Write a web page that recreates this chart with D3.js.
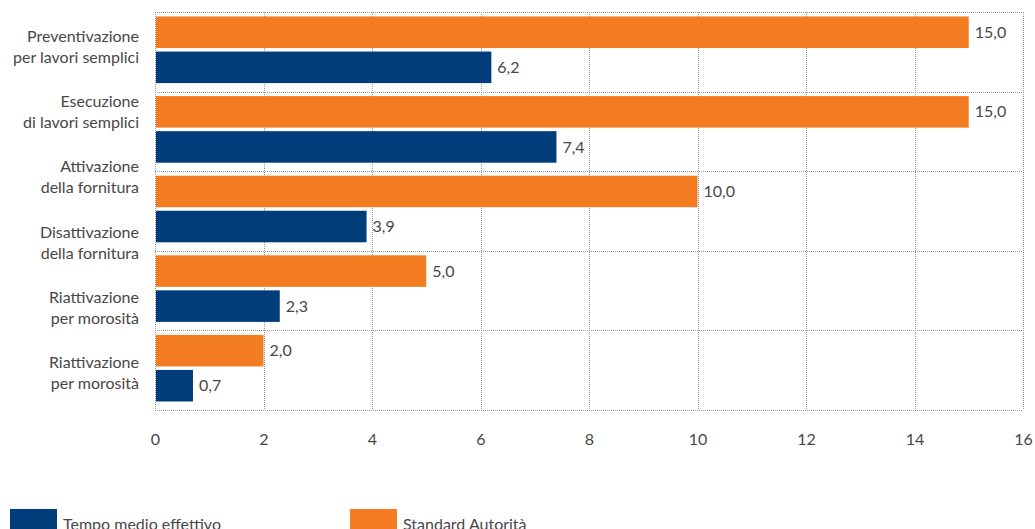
<html>
<head>
    <style>
        body {
            margin: 0;
            background: white;
            font-family: Lato, "Open Sans", sans-serif;
        }
        svg text {
            fill: #474747;
        }
    </style>
    <script src="https://cdn.jsdelivr.net/npm/d3@7"></script>
</head>
<body>
  <svg id="chart"></svg>
  <script>
    /* Data */
    let categories = [
      ["Preventivazione", "per lavori semplici"],
      ["Esecuzione", "di lavori semplici"],
      ["Attivazione", "della fornitura"],
      ["Disattivazione", "della fornitura"],
      ["Riattivazione", "per morosità"],
      ["Riattivazione", "per morosità"]
    ]
    let standardAutorita = [15.0, 15.0, 10.0, 5.0, 2.0]
    let tempoMedio = [6.2, 7.4, 3.9, 2.3, 0.7]
    let xTicks = [0, 2, 4, 6, 8, 10, 12, 14, 16]
    let seriesNames = ["Tempo medio effettivo", "Standard Autorità"]

    let orange = "#f37c22"
    let blue = "#023d7b"

    let width = 1035, height = 529
    let margin = { top: 12, bottom: 119, left: 155, right: 12 }

    let svg = d3.select("#chart").attr("width", width).attr("height", height)

    let x = d3.scaleLinear().domain([0, 16]).range([margin.left, width - margin.right])

    // bars are in 5 pairs, one pair between each pair of horizontal lines
    let groups = d3.range(standardAutorita.length)
    let yGroup = d3.scaleBand().domain(groups).range([margin.top, height - margin.bottom])
    let ySub = d3.scaleBand().domain(["std", "tempo"])
                 .range([4.5, yGroup.bandwidth() - 8.5]).paddingInner(0.1)

    // category labels use their own band scale (6 labels)
    let yLabel = d3.scaleBand().domain(d3.range(categories.length)).range([14, 406])

    // grid
    let grid = svg.append("g")
      .attr("stroke", "#9a9a9a").attr("stroke-width", 1).attr("stroke-dasharray", "1,1")
    grid.selectAll(".v").data(xTicks).enter().append("line")
      .attr("x1", d => Math.round(x(d)) + 0.5).attr("x2", d => Math.round(x(d)) + 0.5)
      .attr("y1", margin.top).attr("y2", height - margin.bottom)
    let hLines = groups.map(g => yGroup(g)).concat([height - margin.bottom])
    grid.selectAll(".h").data(hLines).enter().append("line")
      .attr("x1", x(0)).attr("x2", x(16))
      .attr("y1", d => Math.round(d) + 0.5).attr("y2", d => Math.round(d) + 0.5)

    // bars
    let bars = svg.append("g")
    bars.selectAll(".std").data(standardAutorita).enter().append("rect")
      .attr("x", x(0) + 1)
      .attr("y", (d, i) => yGroup(i) + ySub("std"))
      .attr("width", d => x(d) - x(0) - 1)
      .attr("height", ySub.bandwidth())
      .attr("fill", orange)
    bars.selectAll(".tempo").data(tempoMedio).enter().append("rect")
      .attr("x", x(0) + 1)
      .attr("y", (d, i) => yGroup(i) + ySub("tempo"))
      .attr("width", d => x(d) - x(0) - 1)
      .attr("height", ySub.bandwidth())
      .attr("fill", blue)

    // value labels
    let fmt = d => d.toFixed(1).replace(".", ",")
    let labels = svg.append("g").attr("font-size", 16)
    labels.selectAll(".lstd").data(standardAutorita).enter().append("text")
      .attr("x", d => x(d) + 6)
      .attr("y", (d, i) => yGroup(i) + ySub("std") + ySub.bandwidth() / 2)
      .attr("dy", "0.35em")
      .text(fmt)
    labels.selectAll(".ltempo").data(tempoMedio).enter().append("text")
      .attr("x", d => x(d) + 6)
      .attr("y", (d, i) => yGroup(i) + ySub("tempo") + ySub.bandwidth() / 2)
      .attr("dy", "0.35em")
      .text(fmt)

    // category labels
    let cat = svg.append("g").attr("font-size", 16).attr("text-anchor", "end")
    cat.selectAll("text").data(categories).enter().append("text")
      .attr("x", 139)
      .attr("y", (d, i) => yLabel(i) + yLabel.bandwidth() / 2 - 5)
      .selectAll("tspan").data(d => d).enter().append("tspan")
      .attr("x", 139)
      .attr("dy", (d, i) => i === 0 ? "0" : "21")
      .text(d => d)

    // x axis tick labels
    let axisX = d3.axisBottom(x).tickValues(xTicks).tickSize(0).tickPadding(24)
    let ax = svg.append("g")
      .attr("transform", `translate(0,${height - margin.bottom})`)
      .call(axisX)
    ax.select(".domain").remove()
    ax.selectAll("text").attr("font-size", 16).attr("font-family", "Lato, sans-serif")
      .attr("fill", "#474747")

    // legend
    let legend = svg.append("g")
    let legendX = [10, 350]
    let legendColors = [blue, orange]
    legend.selectAll("rect").data(seriesNames).enter().append("rect")
      .attr("x", (d, i) => legendX[i]).attr("y", 509)
      .attr("width", 47).attr("height", 22)
      .attr("fill", (d, i) => legendColors[i])
    legend.selectAll("text").data(seriesNames).enter().append("text")
      .attr("x", (d, i) => legendX[i] + 53).attr("y", 530)
      .attr("font-size", 16)
      .text(d => d)
  </script>
</body>
</html>
